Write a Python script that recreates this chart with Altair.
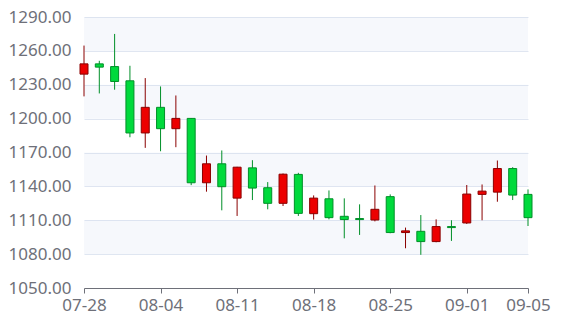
import altair as alt
import pandas as pd

dates = ["07-28", "07-29", "07-30", "07-31", "08-01",
         "08-04", "08-05", "08-06", "08-07", "08-08",
         "08-11", "08-12", "08-13", "08-14", "08-15",
         "08-18", "08-19", "08-20", "08-21", "08-22",
         "08-25", "08-26", "08-27", "08-28", "08-29",
         "09-01", "09-02", "09-03", "09-04", "09-05"]
open_ = [1239.4, 1248.5, 1246.1, 1233.5, 1187.3,
         1210.0, 1191.1, 1200.2, 1143.2, 1160.0,
         1129.6, 1156.4, 1138.8, 1125.0, 1150.6,
         1115.8, 1129.0, 1113.5, 1111.5, 1110.2,
         1130.9, 1099.1, 1100.2, 1091.1, 1104.4,
         1107.6, 1132.9, 1134.9, 1155.8, 1132.9]
close = [1248.5, 1245.6, 1232.9, 1187.3, 1210.0,
         1191.1, 1200.2, 1143.2, 1160.0, 1139.7,
         1157.0, 1138.5, 1125.0, 1150.8, 1116.1,
         1129.6, 1112.3, 1110.6, 1110.6, 1119.7,
         1099.1, 1100.6, 1091.1, 1104.4, 1103.5,
         1133.2, 1135.8, 1155.8, 1132.3, 1112.3]
low = [1219.7, 1222.3, 1225.6, 1183.5, 1174.1,
       1171.1, 1174.7, 1141.1, 1135.3, 1118.8,
       1113.8, 1127.9, 1119.7, 1122.6, 1113.8,
       1110.6, 1110.8, 1094.0, 1097.0, 1109.0,
       1098.5, 1085.2, 1079.4, 1090.5, 1091.7,
       1106.7, 1110.0, 1126.4, 1127.9, 1104.9]
high = [1264.7, 1251.2, 1275.0, 1246.8, 1235.9,
        1228.5, 1220.5, 1200.5, 1167.3, 1171.8,
        1157.3, 1163.2, 1143.8, 1151.4, 1152.0,
        1132.0, 1136.4, 1129.4, 1124.1, 1140.8,
        1132.9, 1103.5, 1114.6, 1110.8, 1110.0,
        1141.2, 1141.7, 1162.9, 1157.0, 1137.3]

x_labels = ["07-28", "08-04", "08-11", "08-18", "08-25", "09-01", "09-05"]
y_ticks = [1050, 1080, 1110, 1140, 1170, 1200, 1230, 1260, 1290]
band_lo = [1080, 1140, 1200, 1260]
band_hi = [1110, 1170, 1230, 1290]

W, H = 444, 271
FONT = "Noto Sans"
LBL = "#6E7079"

df = pd.DataFrame({"date": dates, "open": open_, "close": close, "low": low, "high": high})
bands = pd.DataFrame({"lo": band_lo, "hi": band_hi})

yscale = alt.Scale(domain=[1050, 1290], nice=False, zero=False)
xscale = alt.Scale(type="point", padding=0, domain=dates)
yaxis = alt.Axis(values=y_ticks, format=".2f", domain=False, ticks=False,
                 grid=True, gridColor="#E0E6F1", gridWidth=1,
                 labelColor=LBL, labelFont=FONT, labelFontSize=17,
                 labelPadding=13, labelOverlap=False, labelBound=False,
                 title=None)

bg = alt.Chart(bands).mark_rect(fill="#d2dbee", opacity=0.2).encode(
    x=alt.value(0), x2=alt.value(W),
    y=alt.Y("lo:Q", scale=yscale, axis=yaxis),
    y2="hi:Q",
)

up = "datum.close > datum.open"
base = alt.Chart(df).encode(
    x=alt.X("date:O", scale=xscale, sort=dates,
            axis=alt.Axis(values=x_labels, labelAngle=0, domainColor=LBL, tickColor=LBL,
                          tickSize=5, labelColor=LBL, labelFont=FONT, labelFontSize=17,
                          labelPadding=4, labelOverlap=False, grid=False, title=None)),
)

wick = base.mark_rule(strokeWidth=1).encode(
    y=alt.Y("low:Q", scale=yscale, axis=yaxis),
    y2="high:Q",
    stroke=alt.condition(up, alt.value("#8A0000"), alt.value("#008F28")),
)

body = base.mark_bar(width=8, strokeWidth=1).encode(
    y=alt.Y("open:Q", scale=yscale, axis=yaxis),
    y2="close:Q",
    fill=alt.condition(up, alt.value("#ec0000"), alt.value("#00da3c")),
    stroke=alt.condition(up, alt.value("#8A0000"), alt.value("#008F28")),
)

chart = alt.layer(bg, wick, body).properties(
    width=W, height=H,
    autosize=alt.AutoSizeParams(type="none"),
    padding={"left": 76, "top": 9, "right": 28, "bottom": 27},
    background="white",
).configure_view(stroke=None)

chart.save("out.html", embed_options={"renderer": "svg", "actions": False})
